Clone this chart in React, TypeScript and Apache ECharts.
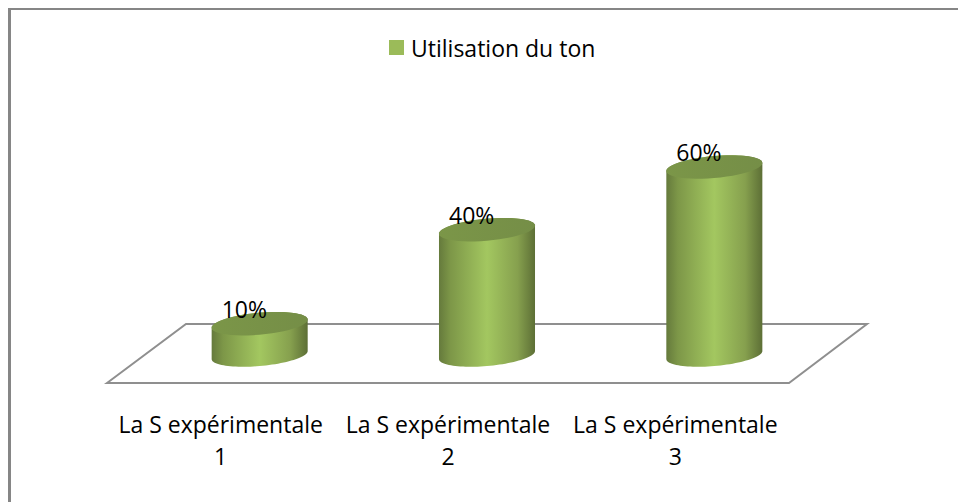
import React, { useEffect, useRef } from "react";
import * as echarts from "echarts";

const categories = ["La S expérimentale\n1", "La S expérimentale\n2", "La S expérimentale\n3"];
const seriesName = "Utilisation du ton";
const values = [10, 40, 60];

const WIDTH = 958;
const HEIGHT = 502;
const BORDER = "#868686";
const FLOOR = "#8f8f8f";
const GREEN = "#9BBB59";
const FONT_AXIS = "Open Sans";

const ellipsePoints = (cx: number, cy: number, a: number, b: number, s: number, from: number, to: number) => {
  const pts: number[][] = [];
  const n = 48;
  for (let i = 0; i <= n; i++) {
    const t = from + ((to - from) * i) / n;
    pts.push([cx + a * Math.cos(t), cy + b * Math.sin(t) - s * Math.cos(t)]);
  }
  return pts;
};

const renderCylinder = (params: any, api: any) => {
  const idx = api.value(0);
  const val = api.value(1);
  const top = api.coord([idx, val]);
  const base = api.coord([idx, 0]);
  const a = api.size([1, 0])[0] * 0.2112;
  const b = a * 0.23;
  const s = a * 0.085;
  const bottomArc = ellipsePoints(base[0], base[1], a, b, s, 0, Math.PI);
  const topArc = ellipsePoints(top[0], top[1], a, b, s, Math.PI, 2 * Math.PI);
  const topFull = ellipsePoints(top[0], top[1], a, b, s, 0, 2 * Math.PI);
  const bodyFill = new echarts.graphic.LinearGradient(0, 0, 1, 0, [
    { offset: 0, color: "#657a3c" },
    { offset: 0.12, color: "#7d9748" },
    { offset: 0.5, color: "#a3c760" },
    { offset: 0.82, color: "#86a04e" },
    { offset: 1, color: "#5d6f36" },
  ]);
  const capFill = new echarts.graphic.LinearGradient(0, 0, 1, 0, [
    { offset: 0, color: "#7b9648" },
    { offset: 1, color: "#758e47" },
  ]);
  return {
    type: "group",
    children: [
      { type: "polygon", shape: { points: bottomArc.concat(topArc) }, style: { fill: bodyFill } },
      { type: "polygon", shape: { points: topFull }, style: { fill: capFill } },
      {
        type: "text",
        x: top[0] - a * 0.32,
        y: top[1] - a * 0.31,
        style: {
          text: `${val}%`,
          fill: "#000",
          font: `23px "${FONT_AXIS}"`,
          align: "center",
          verticalAlign: "middle",
        },
      },
    ],
  };
};

export default function App() {
  const ref = useRef<HTMLDivElement>(null);
  useEffect(() => {
    document.body.style.margin = "0";
    const chart = echarts.init(ref.current!, undefined, { renderer: "svg" });
    chart.setOption({
      animation: false,
      backgroundColor: "#fff",
      legend: {
        data: [seriesName],
        left: 384,
        top: 31,
        icon: "rect",
        itemWidth: 15,
        itemHeight: 15,
        itemGap: 8,
        textStyle: { fontFamily: FONT_AXIS, fontSize: 23, color: "#000", padding: [0, 0, 0, 2] },
      },
      grid: [
        { left: 146, top: 167, width: 682, height: 188 },
        { left: 107, top: 324, width: 682, height: 59 },
      ],
      xAxis: [
        { type: "category", gridIndex: 0, data: categories, show: false },
        {
          type: "category",
          gridIndex: 1,
          data: categories,
          axisLine: { show: false },
          axisTick: { show: false },
          axisLabel: {
            interval: 0,
            margin: 25,
            fontFamily: FONT_AXIS,
            fontSize: 23,
            lineHeight: 32,
            color: "#000",
          },
        },
      ],
      yAxis: [
        { type: "value", gridIndex: 0, min: 0, max: 60, show: false },
        { type: "value", gridIndex: 1, min: 0, max: 60, show: false },
      ],
      graphic: [
        {
          type: "polygon",
          z: 0,
          silent: true,
          shape: { points: [[107, 383], [186, 324], [867, 324], [789, 383]] },
          style: { fill: "#fff", stroke: FLOOR, lineWidth: 2 },
        },
        { type: "rect", z: 0, silent: true, shape: { x: 8, y: 8, width: 3, height: HEIGHT - 8 }, style: { fill: BORDER } },
        { type: "rect", z: 0, silent: true, shape: { x: 8, y: 8, width: WIDTH - 8, height: 2 }, style: { fill: BORDER } },
      ],
      series: [
        {
          type: "custom",
          name: seriesName,
          xAxisIndex: 0,
          yAxisIndex: 0,
          z: 5,
          itemStyle: { color: GREEN },
          renderItem: renderCylinder,
          data: values.map((v, i) => [i, v]),
          encode: { x: 0, y: 1 },
        },
      ],
    });
    return () => chart.dispose();
  }, []);
  return <div ref={ref} style={{ position: "fixed", left: 0, top: 0, width: WIDTH, height: HEIGHT }} />;
}
